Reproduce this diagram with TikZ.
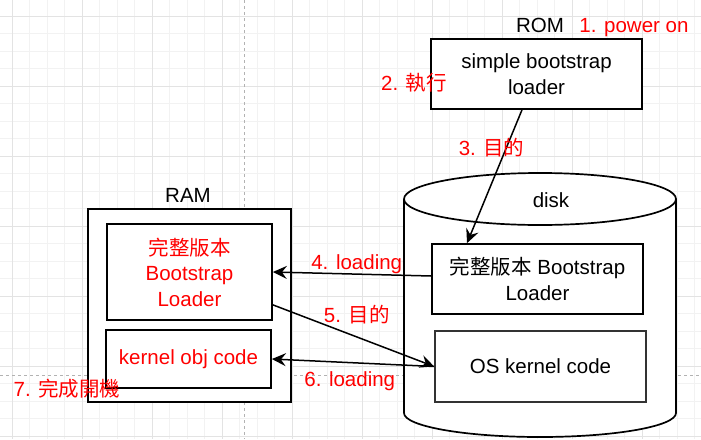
\documentclass[tikz,border=0pt]{standalone}
\usepackage{fontspec}
\setmainfont{Liberation Sans}
\newfontfamily\cjk{Noto Sans CJK TC}
\usetikzlibrary{arrows.meta}

\tikzset{
  caixa/.style={draw,fill=white,line width=1.7pt,align=center,inner sep=0pt,font=\fontsize{20.5}{25.5}\selectfont},
  rotulo/.style={red,inner sep=0pt,anchor=base,font=\fontsize{20.5}{24}\selectfont},
  titulo/.style={black,inner sep=0pt,anchor=base,font=\fontsize{20.5}{24}\selectfont},
  seta/.style={line width=1.5pt,-{Stealth[length=14pt,width=13pt,inset=5pt]}},
  gradefina/.style={black!5,line width=0.8pt},
  gradegrossa/.style={black!11,line width=0.8pt},
  pagina/.style={black!30,dashed,line width=0.8pt}
}

\begin{document}
\begin{tikzpicture}[x=1pt,y=-1pt]
  \useasboundingbox (0,0) rectangle (701,439);
  %grade
  \foreach \i in {0,...,39} \draw[gradefina] ({12+17.5*\i},0) -- ({12+17.5*\i},439);
  \foreach \j in {0,...,24} \draw[gradefina] (0,{16+17.5*\j}) -- (701,{16+17.5*\j});
  \foreach \i in {0,4,...,36} \draw[gradegrossa] ({12+17.5*\i},0) -- ({12+17.5*\i},439);
  \foreach \j in {0,4,...,24} \draw[gradegrossa] (0,{16+17.5*\j}) -- (701,{16+17.5*\j});
  %quebra de pagina
  \draw[pagina] (244,0) -- (244,439);
  \draw[pagina] (0,375) -- (701,375);

  %ROM
  \node[titulo] (romtit) at (540,32) {ROM};
  \node[rotulo] (passo1) at (634,32) {1. power on};
  \node[caixa,minimum width=211,minimum height=70] (rom) at (536.5,74) {simple bootstrap\\loader};
  \node[rotulo] (passo2) at (414,90) {2. {\cjk 執行}};

  %disco
  \draw[line width=1.7pt,fill=white] (404,199) -- (404,413) arc[start angle=180,end angle=0,x radius=136,y radius=24] -- (676,199);
  \draw[line width=1.7pt,fill=white] (540,199) ellipse[x radius=136,y radius=26];
  \node[titulo] (disktit) at (551,207) {disk};
  \node[caixa,minimum width=211,minimum height=70] (dboot) at (537.5,279) {{\cjk 完整版本} Bootstrap\\Loader};
  \node[caixa,draw=black!80,minimum width=211,minimum height=71] (oskern) at (540.5,366.5) {OS kernel code};

  %RAM
  \node[titulo] (ramtit) at (188,202) {RAM};
  \node[caixa,minimum width=203,minimum height=193] (ram) at (189.5,305.5) {};
  \node[caixa,text=red,minimum width=165,minimum height=96] (rboot) at (189.5,272) {{\cjk 完整版本}\\Bootstrap\\Loader};
  \node[caixa,text=red,minimum width=165,minimum height=58] (kobj) at (188.5,359) {kernel obj code};

  %setas
  \draw[seta] ([xshift=-14.5pt]rom.south) -- node[rotulo,pos=0.28,xshift=-15pt,yshift=-8pt] (passo3) {3. {\cjk 目的}} ([xshift=-70.5pt]dboot.north);
  \draw[seta] ([yshift=3pt]dboot.west) -- node[rotulo,pos=0.47,yshift=5pt] (passo4) {4. loading} (rboot.east);
  \draw[seta] ([yshift=16pt]rboot.south east) -- node[rotulo,pos=0.52,yshift=14.5pt] (passo5) {5. {\cjk 目的}} (oskern.west);
  \draw[seta] (oskern.west) -- node[rotulo,pos=0.52,yshift=-24pt] (passo6) {6. loading} (kobj.east);

  \node[rotulo] (passo7) at (67,396) {7. {\cjk 完成開機}};
\end{tikzpicture}
\end{document}
